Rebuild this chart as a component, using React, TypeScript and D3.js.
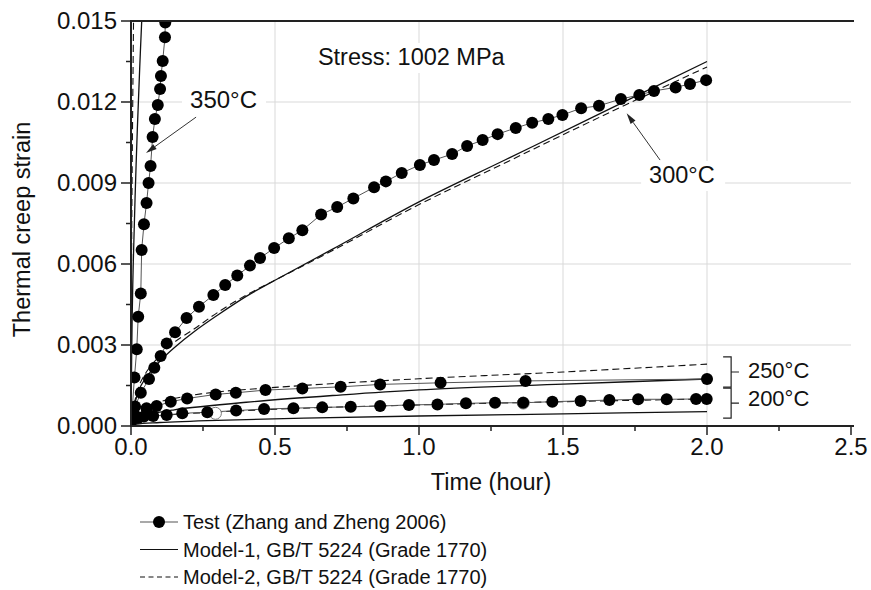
import React from "react";
import * as d3 from "d3";

const W = 871;
const H = 590;
const M = { left: 131, right: 851, top: 21, bottom: 426 };

const xTicks = [0, 0.5, 1.0, 1.5, 2.0, 2.5];
const yTicks = [0, 0.003, 0.006, 0.009, 0.012, 0.015];
const xMinor = [0.25, 0.75, 1.25, 1.75, 2.25];
const yMinor = [0.0015, 0.0045, 0.0075, 0.0105, 0.0135];

// Test data (Zhang and Zheng 2006)
const test350: [number, number][] = [
  [0.004, 0.0006], [0.012, 0.0018], [0.02, 0.00284], [0.025, 0.00405], [0.034, 0.00491],
  [0.037, 0.00652], [0.045, 0.00747], [0.054, 0.00826], [0.061, 0.009],
  [0.068, 0.00963], [0.075, 0.0107], [0.083, 0.01137], [0.093, 0.01189],
  [0.101, 0.01248], [0.104, 0.01296], [0.11, 0.01352], [0.118, 0.0144], [0.119, 0.01494],
];
const test300: [number, number][] = [
  [0.006, 0.0005], [0.034, 0.00123], [0.0625, 0.00174], [0.081, 0.00216], [0.103, 0.00259],
  [0.124, 0.00306], [0.153, 0.00347], [0.193, 0.004], [0.236, 0.00442],
  [0.286, 0.00485], [0.327, 0.00522], [0.369, 0.00557], [0.413, 0.00594],
  [0.448, 0.00622], [0.497, 0.00659], [0.548, 0.00695], [0.595, 0.00725],
  [0.66, 0.00783], [0.716, 0.00811], [0.772, 0.00843], [0.844, 0.00884],
  [0.885, 0.00906], [0.94, 0.00937], [1.003, 0.00967], [1.052, 0.00985],
  [1.115, 0.01007], [1.167, 0.01037], [1.221, 0.01059], [1.273, 0.01081],
  [1.336, 0.01104], [1.393, 0.01123], [1.449, 0.01137], [1.498, 0.01152],
  [1.563, 0.01177], [1.625, 0.01186], [1.701, 0.01211], [1.765, 0.01226],
  [1.816, 0.01241], [1.891, 0.01254], [1.941, 0.01267], [1.997, 0.01281],
];
const test250: [number, number][] = [
  [0.005, 0.0005], [0.014, 0.00072], [0.054, 0.00066], [0.089, 0.00074], [0.138, 0.0009],
  [0.195, 0.00102], [0.294, 0.00117], [0.364, 0.00123], [0.467, 0.00133],
  [0.595, 0.00139], [0.728, 0.00145], [0.865, 0.00154], [1.075, 0.0016],
  [1.37, 0.00167], [2.0, 0.00174],
];
const test200: [number, number][] = [
  [0.004, 0.00022], [0.013, 0.00041], [0.024, 0.0003], [0.045, 0.00035], [0.077, 0.00037],
  [0.124, 0.00041], [0.178, 0.00047], [0.265, 0.00051], [0.365, 0.00057],
  [0.462, 0.00063], [0.564, 0.00066], [0.664, 0.00069], [0.763, 0.00071],
  [0.865, 0.00074], [0.965, 0.00078], [1.064, 0.0008], [1.163, 0.00084],
  [1.264, 0.00086], [1.362, 0.00086], [1.463, 0.0009], [1.561, 0.00093],
  [1.661, 0.00096], [1.761, 0.00099], [1.86, 0.00099], [1.962, 0.001], [1.999, 0.001],
];
const hollowPts: [number, number][] = [[0.293, 0.00047], [1.362, 0.00085]];

// Model-1 (solid)
const m1_350: [number, number][] = [
  [0, 0], [0.001, 0.0013], [0.004, 0.004], [0.008, 0.0061], [0.014, 0.0084],
  [0.022, 0.011], [0.03, 0.0132], [0.038, 0.0152], [0.042, 0.0161],
];
const m1_300: [number, number][] = [
  [0, 0], [0.005, 0.0004], [0.015, 0.0009], [0.03, 0.0014], [0.06, 0.0019],
  [0.1, 0.0024], [0.15, 0.0029], [0.22, 0.0035], [0.3, 0.0041], [0.4, 0.0048],
  [0.5, 0.0054], [0.7, 0.00655], [1.0, 0.0083], [1.3, 0.00986], [1.6, 0.01142], [2.0, 0.0135],
];
const m1_250: [number, number][] = [
  [0, 0], [0.01, 0.0002], [0.05, 0.0004], [0.15, 0.0006], [0.4, 0.00088],
  [0.7, 0.00113], [1.0, 0.00134], [1.5, 0.00155], [2.0, 0.00174],
];
const m1_200: [number, number][] = [
  [0, 0], [0.02, 0.00007], [0.1, 0.00013], [0.3, 0.00021], [0.6, 0.00029],
  [1.0, 0.00037], [1.5, 0.00045], [2.0, 0.00053],
];
// Model-2 (dashed)
const m2_350: [number, number][] = [
  [0, 0], [0.001, 0.004], [0.004, 0.0095], [0.009, 0.0152],
];
const m2_300: [number, number][] = [
  [0, 0], [0.005, 0.0005], [0.015, 0.001], [0.03, 0.00155], [0.06, 0.0021],
  [0.1, 0.0026], [0.15, 0.0031], [0.22, 0.0036], [0.3, 0.0042], [0.4, 0.00485],
  [0.5, 0.0054], [0.7, 0.0065], [1.0, 0.0082], [1.3, 0.00975], [1.6, 0.0113], [2.0, 0.0133],
];
const m2_250: [number, number][] = [
  [0, 0], [0.01, 0.0004], [0.05, 0.0007], [0.1, 0.0009], [0.25, 0.0012],
  [0.5, 0.00143], [1.0, 0.00175], [1.5, 0.002], [2.0, 0.00229],
];
const m2_200: [number, number][] = [
  [0, 0], [0.02, 0.00025], [0.1, 0.00038], [0.3, 0.00052], [0.6, 0.00066],
  [1.0, 0.00078], [1.5, 0.0009], [2.0, 0.001],
];

const legendItems = [
  "Test (Zhang and Zheng 2006)",
  "Model-1, GB/T 5224 (Grade 1770)",
  "Model-2, GB/T 5224 (Grade 1770)",
];

const FONT = "'Liberation Sans', Arial, sans-serif";

export default function App() {
  const x = d3.scaleLinear().domain([0, 2.5]).range([M.left, M.right]);
  const y = d3.scaleLinear().domain([0, 0.015]).range([M.bottom, M.top]);
  const smooth = d3.line<[number, number]>().x(d => x(d[0])).y(d => y(d[1])).curve(d3.curveCatmullRom.alpha(0.5));
  const straight = d3.line<[number, number]>().x(d => x(d[0])).y(d => y(d[1]));

  const tests = [test350, test300, test250, test200];
  const solids = [m1_350, m1_300, m1_250, m1_200];
  const dashes = [m2_350, m2_300, m2_250, m2_200];

  const arrow = (x1: number, y1: number, x2: number, y2: number) => {
    const ang = Math.atan2(y2 - y1, x2 - x1);
    const L = 11, w = 3;
    const bx = x2 - L * Math.cos(ang), by = y2 - L * Math.sin(ang);
    const px = -Math.sin(ang) * w, py = Math.cos(ang) * w;
    return (
      <g>
        <line x1={x1} y1={y1} x2={bx} y2={by} stroke="#333" strokeWidth={1} />
        <path d={`M${x2},${y2}L${bx + px},${by + py}L${bx - px},${by - py}Z`} fill="#222" />
      </g>
    );
  };

  const bracket = (t: number, s1: number, s2: number, tEnd: number) => {
    const x0 = x(t), x1 = x0 + 8, ym = (y(s1) + y(s2)) / 2;
    return (
      <path
        d={`M${x0},${y(s1)}L${x1},${y(s1)}L${x1},${y(s2)}L${x0},${y(s2)}M${x1},${ym}L${x(tEnd)},${ym}`}
        fill="none" stroke="#222" strokeWidth={1.2}
      />
    );
  };

  const lbl = { fontFamily: FONT, fill: "#111" } as const;

  return (
    <svg width={W} height={H} style={{ position: "absolute", left: 0, top: 0, background: "#fff" }}>
      <defs>
        <clipPath id="plot">
          <rect x={M.left} y={M.top} width={M.right - M.left + 4} height={M.bottom - M.top} />
        </clipPath>
      </defs>
      {/* grid */}
      {xTicks.slice(1, 5).map(t => (
        <line key={"gx" + t} x1={x(t)} x2={x(t)} y1={M.top} y2={M.bottom} stroke="#d9d9d9" strokeWidth={1} />
      ))}
      {yTicks.slice(1, 5).map(t => (
        <line key={"gy" + t} x1={M.left} x2={M.right} y1={y(t)} y2={y(t)} stroke="#d9d9d9" strokeWidth={1} />
      ))}

      <g clipPath="url(#plot)">
        {dashes.map((d, i) => (
          <path key={"d" + i} d={smooth(d) || ""} fill="none" stroke="#111" strokeWidth={1.1} strokeDasharray="7,4" />
        ))}
        {solids.map((d, i) => (
          <path key={"s" + i} d={smooth(d) || ""} fill="none" stroke="#111" strokeWidth={1.3} />
        ))}
        {tests.map((d, i) => (
          <path key={"t" + i} d={straight(d) || ""} fill="none" stroke="#555" strokeWidth={1} />
        ))}
        {hollowPts.map((p, i) => (
          <circle key={"h" + i} cx={x(p[0])} cy={y(p[1])} r={6} fill="#fff" stroke="#777" strokeWidth={1} />
        ))}
        {tests.map((d, i) =>
          d.map((p, j) => <circle key={"c" + i + "-" + j} cx={x(p[0])} cy={y(p[1])} r={6} fill="#000" />)
        )}
      </g>

      {/* annotation backgrounds and labels */}
      <rect x={x(0.649) - 4} y={y(0.01337) - 22} width={196} height={30} fill="#fff" />
      <text x={x(0.649)} y={y(0.01337)} fontSize={23.5} {...lbl}>Stress: 1002 MPa</text>

      <rect x={x(0.205) - 8} y={y(0.01178) - 22} width={84} height={30} fill="#fff" />
      <text x={x(0.205)} y={y(0.01178)} fontSize={24} {...lbl}>350°C</text>
      {arrow(x(0.226), y(0.01144), x(0.052), y(0.01011))}

      <rect x={x(1.799) - 8} y={y(0.009) - 22} width={84} height={30} fill="#fff" />
      <text x={x(1.799)} y={y(0.009)} fontSize={23.5} {...lbl}>300°C</text>
      {arrow(x(1.837), y(0.00985), x(1.721), y(0.01158))}

      {bracket(2.056, 0.00256, 0.00144, 2.111)}
      {bracket(2.056, 0.0014, 0.00029, 2.111)}
      <text x={x(2.142)} y={y(0.00178)} fontSize={22} {...lbl}>250°C</text>
      <text x={x(2.142)} y={y(0.00074)} fontSize={22} {...lbl}>200°C</text>

      {/* axes */}
      <line x1={M.left} x2={M.right + 3} y1={M.top} y2={M.top} stroke="#222" strokeWidth={2} />
      <line x1={M.left} x2={M.right + 3} y1={M.bottom} y2={M.bottom} stroke="#222" strokeWidth={2} />
      <line x1={M.left} x2={M.left} y1={M.top - 1} y2={M.bottom + 1} stroke="#222" strokeWidth={2} />
      {xTicks.map(t => (
        <g key={"xt" + t}>
          <line x1={x(t)} x2={x(t)} y1={M.bottom} y2={M.bottom + 9} stroke="#222" strokeWidth={1.5} />
          <text x={x(t)} y={M.bottom + 29} textAnchor="middle" fontSize={24} {...lbl}>{t.toFixed(1)}</text>
        </g>
      ))}
      {xMinor.map(t => (
        <line key={"xm" + t} x1={x(t)} x2={x(t)} y1={M.bottom} y2={M.bottom + 5} stroke="#222" strokeWidth={1.5} />
      ))}
      {yTicks.map(t => (
        <g key={"yt" + t}>
          <line x1={M.left - 10} x2={M.left} y1={y(t)} y2={y(t)} stroke="#222" strokeWidth={1.5} />
          <text x={M.left - 14} y={y(t) + 8} textAnchor="end" fontSize={24} {...lbl}>{t.toFixed(3)}</text>
        </g>
      ))}
      {yMinor.map(t => (
        <line key={"ym" + t} x1={M.left - 5} x2={M.left} y1={y(t)} y2={y(t)} stroke="#222" strokeWidth={1.5} />
      ))}
      <text x={(M.left + M.right) / 2} y={490} textAnchor="middle" fontSize={23.5} {...lbl}>Time (hour)</text>
      <text transform={`translate(30,${(M.top + M.bottom) / 2 + 6}) rotate(-90)`} textAnchor="middle" fontSize={23.5} {...lbl}>
        Thermal creep strain
      </text>

      {/* legend */}
      {legendItems.map((name, i) => {
        const cy = 522 + i * 27.5;
        return (
          <g key={"lg" + i}>
            <line x1={140} x2={178} y1={cy} y2={cy} stroke={i === 0 ? "#555" : "#111"} strokeWidth={1.2}
              strokeDasharray={i === 2 ? "5,3.5" : undefined} />
            {i === 0 && <circle cx={159} cy={cy} r={6} fill="#000" />}
            <text x={183} y={cy + 7} fontSize={20} {...lbl}>{name}</text>
          </g>
        );
      })}
    </svg>
  );
}
